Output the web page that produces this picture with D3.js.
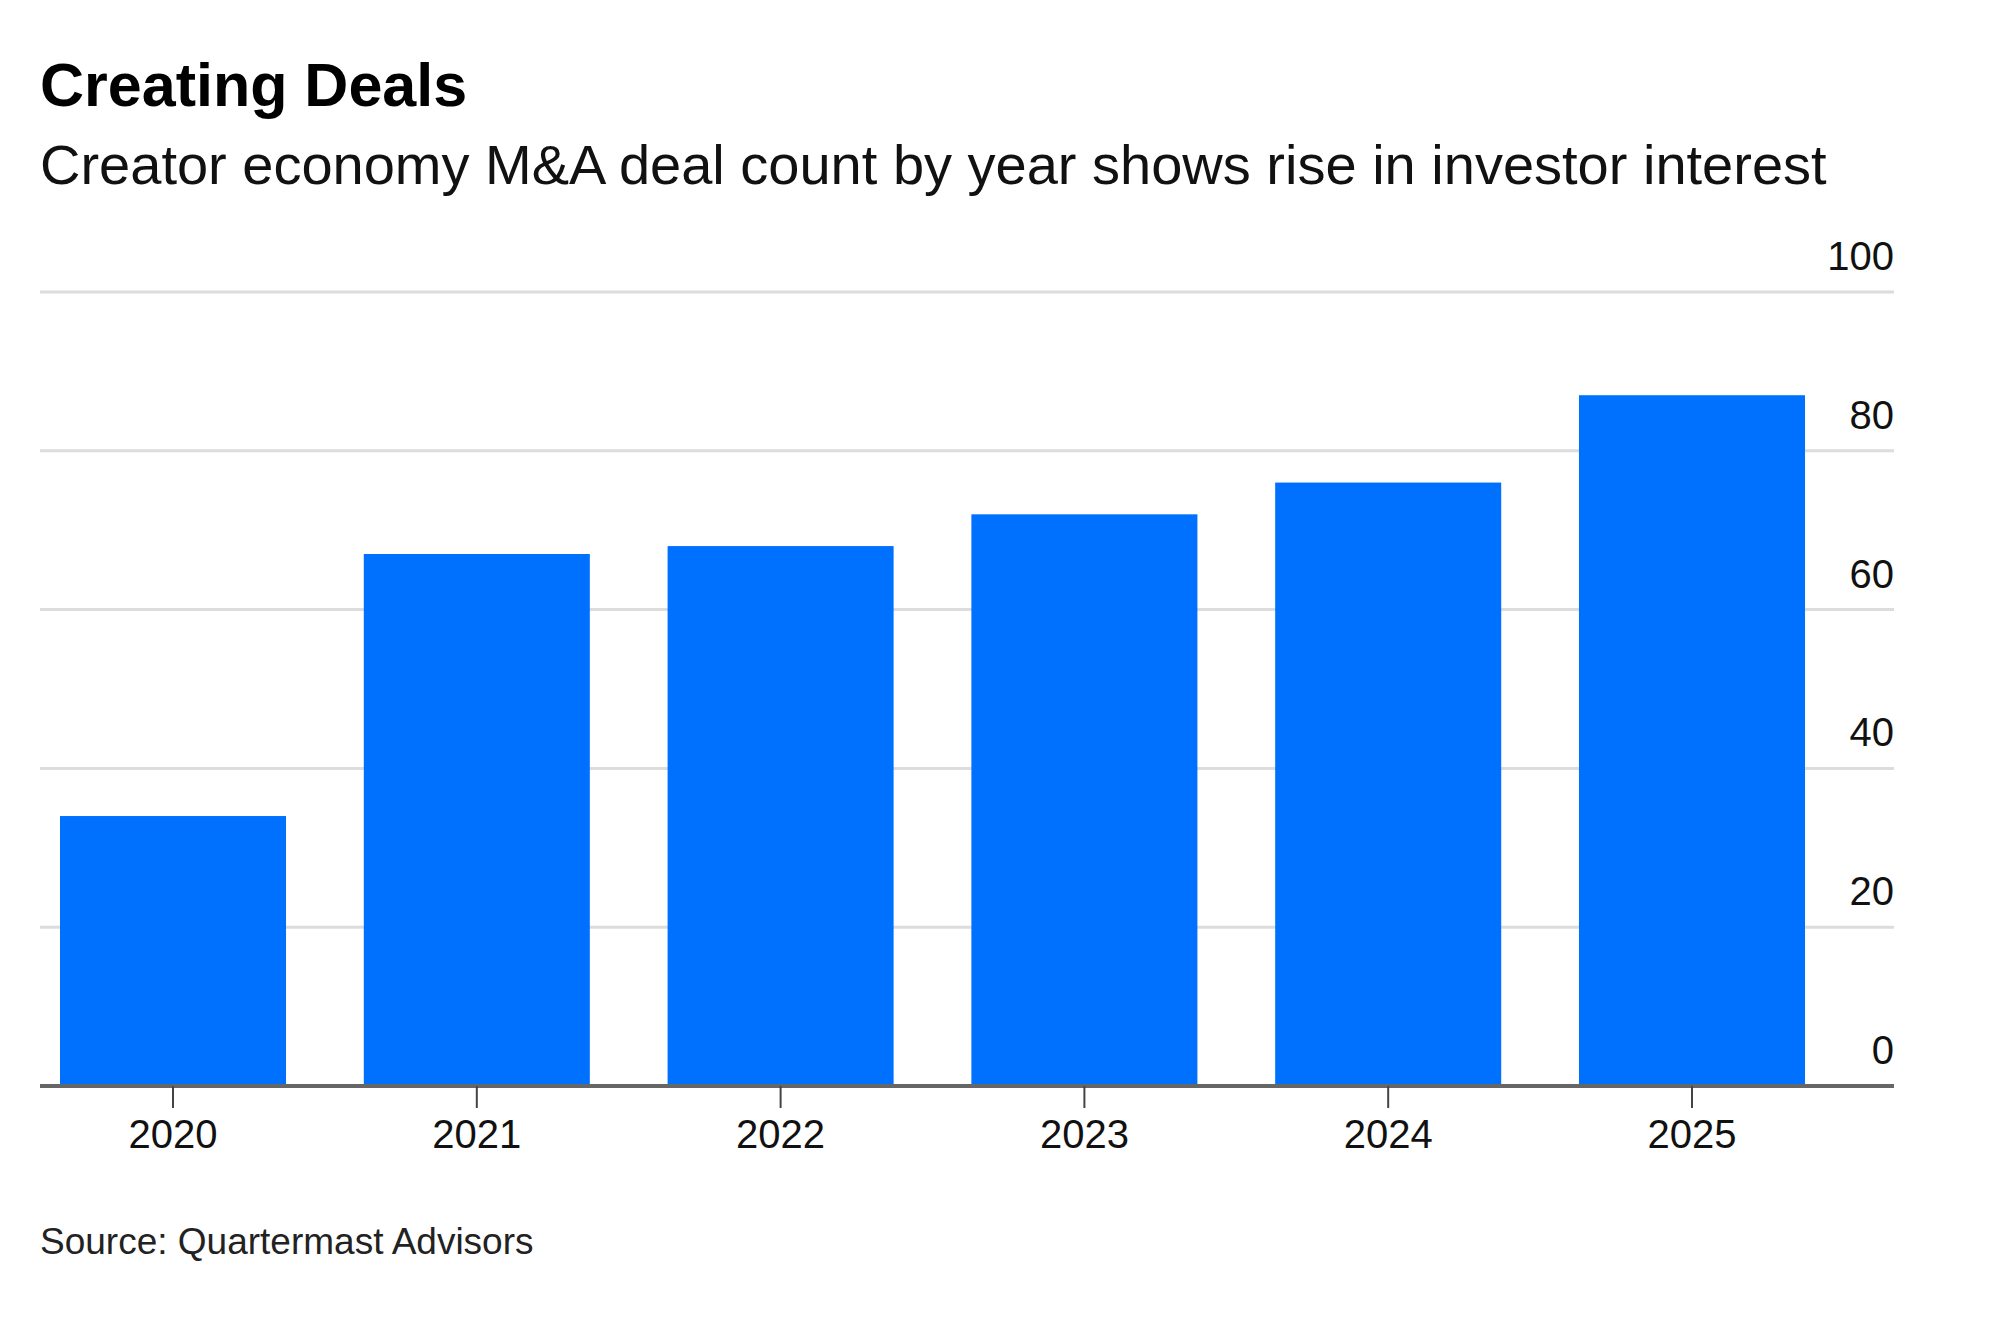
<!DOCTYPE html>
<html lang="en">
<head>
<script src="https://d3js.org/d3.v7.min.js"></script>
<style>
  body { margin: 0; background: #fff; font-family: "Liberation Sans", Arial, sans-serif; }
</style>
</head>
<body>
<script>
var width = 2000, height = 1318;
var deals = [
  { year: "2020", count: 34 },
  { year: "2021", count: 67 },
  { year: "2022", count: 68 },
  { year: "2023", count: 72 },
  { year: "2024", count: 76 },
  { year: "2025", count: 87 }
];

var svg = d3.select("body").append("svg")
  .attr("width", width).attr("height", height);

svg.append("text").attr("x", 40).attr("y", 106)
  .attr("font-size", 61).attr("font-weight", "bold").attr("fill", "#000")
  .text("Creating Deals");
svg.append("text").attr("x", 40).attr("y", 184)
  .attr("font-size", 56).attr("fill", "#111")
  .text("Creator economy M&A deal count by year shows rise in investor interest");

var left = 40, right = 1894;
var y = d3.scaleLinear().domain([0, 100]).range([1086, 292]);
var x = d3.scaleBand().domain(deals.map(function(d){ return d.year; }))
  .range([60, 1805]).paddingInner(0.256).paddingOuter(0);

// gridlines + labels
var ticks = [0, 20, 40, 60, 80, 100];
svg.append("g").selectAll("line").data(ticks.slice(1)).enter().append("line")
  .attr("x1", left).attr("x2", right)
  .attr("y1", function(d){ return y(d); }).attr("y2", function(d){ return y(d); })
  .attr("stroke", "#dcdcdc").attr("stroke-width", 3);
svg.append("g").selectAll("text").data(ticks).enter().append("text")
  .attr("x", right).attr("y", function(d){ return y(d) - 22; })
  .attr("text-anchor", "end").attr("font-size", 40).attr("fill", "#111")
  .text(function(d){ return d; });

svg.append("g").selectAll("rect").data(deals).enter().append("rect")
  .attr("x", function(d){ return x(d.year); })
  .attr("width", x.bandwidth())
  .attr("y", function(d){ return y(d.count); })
  .attr("height", function(d){ return y(0) - y(d.count); })
  .attr("fill", "#0070ff");

svg.append("line").attr("x1", left).attr("x2", right)
  .attr("y1", y(0)).attr("y2", y(0))
  .attr("stroke", "#666").attr("stroke-width", 4);

var xa = svg.append("g");
xa.selectAll("line").data(deals).enter().append("line")
  .attr("x1", function(d){ return x(d.year) + x.bandwidth()/2; })
  .attr("x2", function(d){ return x(d.year) + x.bandwidth()/2; })
  .attr("y1", y(0)).attr("y2", y(0) + 22)
  .attr("stroke", "#444").attr("stroke-width", 2);
xa.selectAll("text").data(deals).enter().append("text")
  .attr("x", function(d){ return x(d.year) + x.bandwidth()/2; })
  .attr("y", 1148).attr("text-anchor", "middle")
  .attr("font-size", 40).attr("fill", "#111")
  .text(function(d){ return d.year; });

svg.append("text").attr("x", 40).attr("y", 1254)
  .attr("font-size", 37).attr("fill", "#222")
  .text("Source: Quartermast Advisors");
</script>
</body>
</html>
